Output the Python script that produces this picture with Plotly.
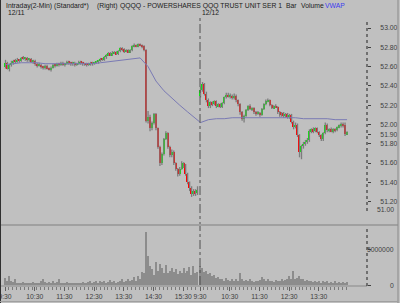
import plotly.graph_objects as go

W, H = 400, 303

# ---------------- data (4-minute candles) ----------------
day1_open = [52.60, 52.64, 52.58, 52.62, 52.64, 52.66, 52.65, 52.67, 52.66, 52.69,
             52.68, 52.69, 52.67, 52.68, 52.65, 52.66, 52.63, 52.61, 52.62, 52.60,
             52.59, 52.61, 52.58, 52.57, 52.59, 52.62, 52.61, 52.63, 52.62, 52.64,
             52.62, 52.63, 52.65, 52.64, 52.63, 52.64, 52.62, 52.63, 52.65, 52.64,
             52.63, 52.62, 52.63, 52.62, 52.64, 52.63, 52.64, 52.65, 52.66, 52.68,
             52.67, 52.70, 52.72, 52.74, 52.72, 52.74, 52.75, 52.73, 52.76, 52.79,
             52.78, 52.76, 52.77, 52.75, 52.77, 52.81, 52.82, 52.81, 52.83, 52.82,
             52.81, 52.77, 52.04, 52.08, 51.96, 52.02, 52.11, 51.96, 51.77, 51.60,
             51.69, 51.85, 51.91, 51.77, 51.68, 51.72, 51.60, 51.54, 51.49, 51.54,
             51.60, 51.58, 51.49, 51.40, 51.34, 51.28, 51.31, 51.29]
day1_close = [52.64, 52.58, 52.62, 52.64, 52.66, 52.65, 52.67, 52.66, 52.69, 52.68,
              52.69, 52.67, 52.68, 52.65, 52.66, 52.63, 52.61, 52.62, 52.60, 52.59,
              52.61, 52.58, 52.57, 52.59, 52.62, 52.61, 52.63, 52.62, 52.64, 52.62,
              52.63, 52.65, 52.64, 52.63, 52.64, 52.62, 52.63, 52.65, 52.64, 52.63,
              52.62, 52.63, 52.62, 52.64, 52.63, 52.64, 52.65, 52.66, 52.68, 52.67,
              52.70, 52.72, 52.74, 52.72, 52.74, 52.75, 52.73, 52.76, 52.79, 52.78,
              52.76, 52.77, 52.75, 52.77, 52.81, 52.82, 52.81, 52.83, 52.82, 52.81,
              52.77, 52.04, 52.08, 51.96, 52.02, 52.11, 51.96, 51.77, 51.60, 51.69,
              51.85, 51.91, 51.77, 51.68, 51.72, 51.60, 51.54, 51.49, 51.54, 51.60,
              51.58, 51.49, 51.40, 51.34, 51.28, 51.31, 51.29, 51.32]
day1_high = [52.67, 52.65, 52.63, 52.66, 52.67, 52.68, 52.69, 52.68, 52.70, 52.71,
             52.70, 52.70, 52.69, 52.69, 52.67, 52.67, 52.64, 52.64, 52.63, 52.61,
             52.62, 52.62, 52.59, 52.60, 52.63, 52.63, 52.64, 52.64, 52.65, 52.65,
             52.64, 52.66, 52.66, 52.65, 52.65, 52.65, 52.64, 52.66, 52.66, 52.65,
             52.64, 52.64, 52.64, 52.65, 52.65, 52.65, 52.66, 52.67, 52.69, 52.69,
             52.71, 52.73, 52.75, 52.75, 52.76, 52.76, 52.76, 52.77, 52.80, 52.80,
             52.79, 52.78, 52.78, 52.78, 52.82, 52.84, 52.83, 52.84, 52.84, 52.83,
             52.82, 52.78, 52.14, 52.10, 52.03, 52.12, 52.12, 51.97, 51.78, 51.71,
             51.86, 51.93, 51.92, 51.78, 51.74, 51.73, 51.61, 51.55, 51.56, 51.62,
             51.61, 51.59, 51.50, 51.41, 51.36, 51.33, 51.33, 51.36]
day1_low = [52.58, 52.57, 52.55, 52.60, 52.62, 52.63, 52.64, 52.64, 52.65, 52.67,
            52.66, 52.65, 52.65, 52.64, 52.63, 52.61, 52.59, 52.60, 52.58, 52.57,
            52.57, 52.57, 52.56, 52.55, 52.58, 52.59, 52.60, 52.60, 52.61, 52.61,
            52.60, 52.62, 52.62, 52.61, 52.61, 52.60, 52.61, 52.62, 52.62, 52.61,
            52.61, 52.60, 52.61, 52.61, 52.61, 52.62, 52.63, 52.63, 52.65, 52.66,
            52.66, 52.68, 52.71, 52.71, 52.71, 52.73, 52.72, 52.72, 52.75, 52.76,
            52.74, 52.75, 52.74, 52.74, 52.76, 52.80, 52.80, 52.80, 52.81, 52.79,
            52.76, 52.02, 52.01, 51.93, 51.94, 52.00, 51.94, 51.75, 51.57, 51.58,
            51.68, 51.84, 51.75, 51.66, 51.66, 51.58, 51.52, 51.46, 51.47, 51.53,
            51.55, 51.47, 51.38, 51.31, 51.25, 51.26, 51.26, 51.27]

day2_open = [52.30, 52.36, 52.42, 52.32, 52.25, 52.19, 52.23, 52.21, 52.24, 52.19,
             52.21, 52.18, 52.22, 52.28, 52.31, 52.29, 52.30, 52.28, 52.30, 52.25,
             52.21, 52.13, 52.06, 52.09, 52.15, 52.19, 52.16, 52.17, 52.13, 52.11,
             52.12, 52.10, 52.16, 52.21, 52.24, 52.25, 52.20, 52.17, 52.19, 52.18,
             52.13, 52.10, 52.12, 52.09, 52.11, 52.08, 52.10, 52.03, 51.97, 52.00,
             51.89, 51.72, 51.78, 51.80, 51.82, 51.84, 51.93, 51.95, 51.93, 51.96,
             51.92, 51.89, 51.85, 51.91, 52.00, 51.94, 51.95, 51.93, 51.95, 51.94,
             51.97, 51.99, 52.01, 51.99, 51.90]
day2_close = [52.36, 52.42, 52.32, 52.25, 52.19, 52.23, 52.21, 52.24, 52.19, 52.21,
              52.18, 52.22, 52.28, 52.31, 52.29, 52.30, 52.28, 52.30, 52.25, 52.21,
              52.13, 52.06, 52.09, 52.15, 52.19, 52.16, 52.17, 52.13, 52.11, 52.12,
              52.10, 52.16, 52.21, 52.24, 52.25, 52.20, 52.17, 52.19, 52.18, 52.13,
              52.10, 52.12, 52.09, 52.11, 52.08, 52.10, 52.03, 51.97, 52.00, 51.89,
              51.72, 51.78, 51.80, 51.82, 51.84, 51.93, 51.95, 51.93, 51.96, 51.92,
              51.89, 51.85, 51.91, 52.00, 51.94, 51.95, 51.93, 51.95, 51.94, 51.97,
              51.99, 52.01, 51.99, 51.90, 51.92]
day2_high = [52.39, 52.44, 52.43, 52.34, 52.27, 52.24, 52.24, 52.25, 52.25, 52.22,
             52.22, 52.23, 52.29, 52.33, 52.33, 52.32, 52.31, 52.32, 52.31, 52.26,
             52.22, 52.14, 52.10, 52.16, 52.20, 52.21, 52.18, 52.18, 52.14, 52.14,
             52.13, 52.17, 52.22, 52.26, 52.27, 52.26, 52.21, 52.20, 52.21, 52.19,
             52.14, 52.13, 52.13, 52.12, 52.12, 52.11, 52.11, 52.04, 52.02, 52.01,
             51.90, 51.79, 51.82, 51.84, 51.86, 51.95, 51.96, 51.97, 51.97, 51.97,
             51.93, 51.90, 51.92, 52.02, 52.01, 51.96, 51.97, 51.96, 51.96, 51.98,
             52.00, 52.02, 52.02, 52.02, 51.93]
day2_low = [52.28, 52.34, 52.30, 52.23, 52.17, 52.17, 52.19, 52.20, 52.17, 52.18,
            52.17, 52.17, 52.21, 52.27, 52.28, 52.27, 52.26, 52.26, 52.23, 52.19,
            52.10, 52.04, 52.02, 52.08, 52.14, 52.15, 52.14, 52.11, 52.09, 52.10,
            52.08, 52.09, 52.15, 52.20, 52.23, 52.19, 52.16, 52.16, 52.17, 52.11,
            52.08, 52.08, 52.07, 52.07, 52.06, 52.06, 52.01, 51.95, 51.96, 51.87,
            51.66, 51.64, 51.75, 51.78, 51.80, 51.82, 51.91, 51.91, 51.92, 51.91,
            51.87, 51.83, 51.83, 51.90, 51.92, 51.92, 51.92, 51.91, 51.92, 51.93,
            51.96, 51.97, 51.97, 51.88, 51.89]

# volume in millions of shares per bar
vol1 = [1.0, 0.6, 1.2, 0.5, 0.4, 0.9, 0.3, 0.2, 0.3, 0.4,
        0.3, 0.2, 0.3, 0.2, 0.4, 0.3, 0.2, 0.3, 0.5, 0.9,
        0.4, 0.3, 0.4, 0.3, 0.6, 0.3, 0.4, 0.9, 0.3, 0.2,
        0.3, 0.4, 0.2, 0.3, 0.2, 0.3, 0.2, 0.3, 0.2, 0.4,
        0.3, 0.2, 0.4, 0.5, 0.3, 0.4, 0.5, 0.3, 0.6, 0.4,
        0.5, 0.3, 0.4, 0.7, 0.4, 0.5, 0.3, 0.4, 0.5, 0.9,
        0.4, 0.6, 0.8, 0.5, 0.7, 1.1, 0.6, 1.3, 0.9, 1.8,
        1.6, 7.4, 4.0, 2.6, 2.2, 1.4, 3.2, 2.0, 2.9, 2.4,
        1.7, 2.8, 1.6, 2.0, 2.4, 1.8, 2.2, 1.5, 2.0, 1.7,
        2.3, 1.6, 1.9, 2.5, 1.4, 2.6, 1.7, 1.8]
vol2 = [2.6, 2.3, 1.8, 2.0, 1.5, 1.6, 1.2, 1.4, 1.0, 1.1,
        0.8, 0.9, 0.6, 1.0, 0.7, 0.5, 0.8, 0.6, 0.9, 0.5,
        1.6, 0.9, 0.6, 0.7, 0.5, 0.8, 0.6, 0.4, 0.6, 0.5,
        0.7, 1.1, 0.9, 0.6, 0.8, 0.5, 0.6, 0.4, 0.7, 0.5,
        0.6, 0.8, 0.5, 0.7, 0.9, 1.2, 0.8, 1.9, 0.9, 1.0,
        1.3, 0.8, 0.9, 0.6, 0.7, 0.5, 0.6, 0.4, 0.5, 0.4,
        0.5, 0.3, 0.6, 0.4, 0.5, 0.3, 0.4, 0.3, 0.5, 0.3,
        0.4, 0.3, 0.4, 0.3, 0.4]

# VWAP read every 4th candle (plus the last candle of each day)
vwap1 = [52.62, 52.63, 52.64, 52.64, 52.64, 52.63, 52.63, 52.63, 52.63, 52.63,
         52.63, 52.63, 52.64, 52.65, 52.66, 52.67, 52.68, 52.69, 52.60, 52.45,
         52.35, 52.27, 52.20, 52.13, 52.06, 52.05]
vwap2 = [52.02, 52.05, 52.06, 52.06, 52.07, 52.07, 52.07, 52.07, 52.07, 52.07,
         52.07, 52.07, 52.07, 52.06, 52.06, 52.06, 52.06, 52.05, 52.05, 52.05]

price_ticks = [51.20, 51.40, 51.60, 51.80, 51.90, 52.00, 52.20, 52.40, 52.60, 52.80, 53.00]
price_tick_text = ["51.20", "51.40", "51.60", "51.80", "51.90", "52.00",
                   "52.20", "52.40", "52.60", "52.80", "53.00"]
vol_ticks = [0, 5.0]
vol_tick_text = ["0", "5000000"]
day1_hours = ["9:30", "10:30", "11:30", "12:30", "13:30", "14:30", "15:30"]
day2_hours = ["9:30", "10:30", "11:30", "12:30", "13:30"]
dates = ["12/11", "12/12"]

# ---------------- positions (x in 2-minute slots) ----------------
DAY2_START = 197          # slot where 12/12 9:30 begins
x1 = [2 * k + 0.5 for k in range(len(day1_close))]
x2 = [DAY2_START + 2 * k + 0.5 for k in range(len(day2_close))]
xs = x1 + x2
op = day1_open + day2_open
cl = day1_close + day2_close
hi = day1_high + day2_high
lo = day1_low + day2_low
vol = vol1 + vol2

idx1 = list(range(0, len(x1), 4)) + [len(x1) - 1]
idx2 = list(range(0, len(x2), 4)) + [len(x2) - 1]
vx = [x1[i] for i in idx1] + [x2[i] for i in idx2]
vy = vwap1 + vwap2

hour_x = [30 * h for h in range(len(day1_hours))] + \
         [DAY2_START + 30 * h for h in range(len(day2_hours))]
minor_x = [v for v in range(0, 196, 4)] + [DAY2_START + v for v in range(0, 152, 4)]


def px_x(p):
    return p / W


def px_y(p):
    return 1 - p / H


PLOT_RIGHT = 367
X0 = -5.05
X1 = 365.66
P_TOP, P_BOT = 19, 211
P_PER = 96.5  # px per dollar
price_range = [53 - (P_BOT - 28) / P_PER, 53 + (28 - P_TOP) / P_PER]
V_TOP, V_BOT = 228, 285
vol_range = [0, (V_BOT - V_TOP) / 36 * 5.0]

BG = "#c0c0c0"
FONT = "Liberation Sans, Arial, sans-serif"
FS = 6.8

fig = go.Figure()

# wicks
wx, wy = [], []
for x, h, l in zip(xs, hi, lo):
    wx += [x, x, None]
    wy += [l, h, None]
fig.add_trace(go.Scatter(x=wx, y=wy, mode="lines", line=dict(color="#7c7c7c", width=1.3),
                         hoverinfo="skip", xaxis="x", yaxis="y"))

# bodies
up_x, up_b, up_h, dn_x, dn_b, dn_h = [], [], [], [], [], []
for x, o, c in zip(xs, op, cl):
    if c >= o:
        up_x.append(x); up_b.append(o); up_h.append(max(c - o, 0.006))
    else:
        dn_x.append(x); dn_b.append(c); dn_h.append(o - c)
fig.add_trace(go.Bar(x=up_x, y=up_h, base=up_b, width=1.4,
                     marker=dict(color="#00f000", line=dict(width=0)),
                     xaxis="x", yaxis="y", hoverinfo="skip"))
fig.add_trace(go.Bar(x=dn_x, y=dn_h, base=dn_b, width=1.4,
                     marker=dict(color="#ff0000", line=dict(width=0)),
                     xaxis="x", yaxis="y", hoverinfo="skip"))

# VWAP
fig.add_trace(go.Scatter(x=vx, y=vy, mode="lines", line=dict(color="#7a7ab4", width=1),
                         hoverinfo="skip", xaxis="x", yaxis="y"))

# volume
fig.add_trace(go.Bar(x=xs, y=vol, width=1.4, marker=dict(color="#8c8c8c", line=dict(width=0)),
                     xaxis="x", yaxis="y2", hoverinfo="skip"))

tickfont = dict(family=FONT, size=FS, color="#404040")

fig.update_layout(
    template="none",
    width=W, height=H, margin=dict(l=0, r=0, t=0, b=0, pad=0, autoexpand=False),
    paper_bgcolor=BG, plot_bgcolor=BG, showlegend=False, barmode="overlay",
    hovermode=False, bargap=0, font=dict(family=FONT, size=FS, color="#303030"),
    xaxis=dict(domain=[0, px_x(PLOT_RIGHT)], range=[X0, X1], anchor="y2",
               tickmode="array", tickvals=hour_x, ticktext=day1_hours + day2_hours,
               tickangle=0, automargin=False, ticklabeloverflow="allow",
               ticks="outside", ticklen=4, tickcolor="#606060", tickwidth=1,
               showline=True, linecolor="#a4a4a4", linewidth=2,
               showgrid=False, zeroline=False, tickfont=tickfont,
               minor=dict(tickmode="array", tickvals=minor_x, ticks="outside",
                          ticklen=3, tickcolor="#7a7a7a", showgrid=False)),
    yaxis=dict(domain=[px_y(P_BOT), px_y(P_TOP)], range=price_range, anchor="x",
               side="right", tickmode="array", tickvals=price_ticks, ticktext=price_tick_text,
               ticks="outside", ticklen=3, tickcolor="#404040", showgrid=False, automargin=False,
               zeroline=False, showline=False, tickfont=tickfont, ticklabelstandoff=8),
    yaxis2=dict(domain=[px_y(V_BOT), px_y(V_TOP)], range=vol_range, anchor="x",
                side="right", tickmode="array", tickvals=vol_ticks, automargin=False,
                ticks="outside", ticklen=3, tickcolor="#404040", showgrid=False,
                zeroline=False, showline=False, showticklabels=False),
)

ann = []
for v, t in zip(vol_ticks, vol_tick_text):
    ann.append(dict(x=px_x(396), xref="paper", y=v, yref="y2", text=t, showarrow=False,
                    xanchor="right", yanchor="middle", font=tickfont))
ann.append(dict(x=px_x(396), xref="paper", y=px_y(210), yref="paper", text="51.00",
                showarrow=False, xanchor="right", yanchor="middle", font=tickfont))

header = [("Intraday(2-Min) (Standard*)", 4, "#202020"), ("(Right)", 95, "#202020"),
          ("QQQQ - POWERSHARES QQQ TRUST UNIT SER 1", 118, "#202020"),
          ("Bar", 284, "#202020"), ("Volume", 299, "#202020"), ("VWAP", 323, "#3c3cf0")]
for t, x, c in header:
    ann.append(dict(x=px_x(x), xref="paper", y=px_y(5.5), yref="paper", text=t,
                    showarrow=False, xanchor="left", yanchor="middle",
                    font=dict(family=FONT, size=FS, color=c)))
for t, x in zip(dates, [6, 200]):
    ann.append(dict(x=px_x(x), xref="paper", y=px_y(12.5), yref="paper", text=t,
                    showarrow=False, xanchor="left", yanchor="middle",
                    font=dict(family=FONT, size=FS, color="#202020")))
fig.update_layout(annotations=ann)

shapes = [
    dict(type="line", xref="x", yref="paper", x0=DAY2_START, x1=DAY2_START,
         y0=px_y(V_BOT), y1=px_y(18), line=dict(color="#505050", width=1, dash="dashdot")),
    dict(type="line", xref="paper", yref="paper", x0=px_x(PLOT_RIGHT), x1=px_x(PLOT_RIGHT),
         y0=px_y(P_BOT), y1=px_y(P_TOP), line=dict(color="#202020", width=1, dash="dot")),
    dict(type="line", xref="paper", yref="paper", x0=px_x(PLOT_RIGHT), x1=px_x(PLOT_RIGHT),
         y0=px_y(V_BOT + 1), y1=px_y(229), line=dict(color="#202020", width=1, dash="dot")),
    dict(type="line", xref="paper", yref="paper", x0=0, x1=px_x(398), y0=px_y(225), y1=px_y(225),
         line=dict(color="#a0a0a0", width=2)),
    dict(type="line", xref="paper", yref="paper", x0=px_x(0.5), x1=px_x(0.5), y0=0, y1=1,
         line=dict(color="#303030", width=1)),
    dict(type="line", xref="paper", yref="paper", x0=px_x(398), x1=px_x(398), y0=0, y1=1,
         line=dict(color="#8a8a8a", width=1)),
    dict(type="line", xref="paper", yref="paper", x0=0, x1=px_x(398), y0=px_y(301.5), y1=px_y(301.5),
         line=dict(color="#a0a0a0", width=1)),
]
fig.update_layout(shapes=shapes)

fig.write_html("out.html")
